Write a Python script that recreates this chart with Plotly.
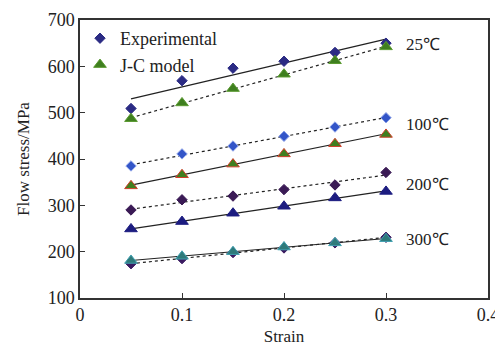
import numpy as np
import plotly.graph_objects as go

strain = [0.05, 0.10, 0.15, 0.20, 0.25, 0.30]
temps = ["25℃", "100℃", "200℃", "300℃"]
exp_25 = [509, 569, 596, 611, 630, 650]
jc_25 = [487, 521, 552, 583, 612, 642]
exp_100 = [385, 411, 428, 449, 469, 489]
jc_100 = [342, 366, 389, 411, 433, 453]
exp_200 = [290, 312, 320, 334, 344, 371]
jc_200 = [249, 265, 283, 298, 316, 330]
exp_300 = [174, 185, 198, 208, 219, 231]
jc_300 = [181, 190, 200, 210, 219, 228]
label_y = [648, 474, 344, 227]

exp_sets = [exp_25, exp_100, exp_200, exp_300]
jc_sets = [jc_25, jc_100, jc_200, jc_300]
exp_colors = ["#2b2b84", "#3355c8", "#3a1a55", "#3a1a60"]
exp_lines = ["#2b2b84", "#8aa0e8", "#3a1a55", "#3a1a60"]
jc_colors = ["#3f7f1f", "#3f7f1f", "#1c1c80", "#2e7a7a"]
jc_lines = ["#5a9a30", "#d0402a", "#1c1c80", "#40a0b0"]
exp_dash = ["solid", "dot", "dot", "dot"]
jc_dash = ["dot", "solid", "solid", "solid"]

FONT = "Liberation Serif"
fig = go.Figure()
xs = np.array(strain)
for i in range(4):
    for ys, dash in ((exp_sets[i], exp_dash[i]), (jc_sets[i], jc_dash[i])):
        k, b = np.polyfit(xs, np.array(ys), 1)
        fig.add_trace(go.Scatter(x=[strain[0], strain[-1]], y=[k * strain[0] + b, k * strain[-1] + b],
                                 mode="lines", line=dict(color="#222222", width=1.2, dash=dash),
                                 showlegend=False, hoverinfo="skip"))
for i in range(4):
    fig.add_trace(go.Scatter(x=strain, y=exp_sets[i], mode="markers", name="Experimental",
                             legendgroup="exp", showlegend=(i == 0),
                             marker=dict(symbol="diamond", size=8, color=exp_colors[i],
                                         line=dict(color=exp_lines[i], width=1))))
    fig.add_trace(go.Scatter(x=strain, y=jc_sets[i], mode="markers", name="J-C model",
                             legendgroup="jc", showlegend=(i == 0),
                             marker=dict(symbol="triangle-up", size=11, color=jc_colors[i],
                                         line=dict(color=jc_lines[i], width=1))))

for t, yv in zip(temps, label_y):
    fig.add_annotation(x=0.318, y=yv, text=t, showarrow=False, xanchor="left",
                       font=dict(family=FONT, size=17, color="#222222"))

axis_common = dict(showgrid=False, zeroline=False, showline=True, linecolor="#333333", linewidth=1.5,
                   mirror=True, ticks="inside", ticklen=5, tickcolor="#333333", automargin=False,
                   tickfont=dict(family=FONT, size=18, color="#222222"))
fig.update_xaxes(range=[0, 0.4], tickvals=[0, 0.1, 0.2, 0.3, 0.4], ticktext=["0", "0.1", "0.2", "0.3", "0.4"],
                 ticklabeloverflow="allow",
                 title=dict(text="Strain", font=dict(family=FONT, size=17, color="#222222"), standoff=6),
                 **axis_common)
fig.update_yaxes(range=[100, 700], tickvals=[100, 200, 300, 400, 500, 600, 700],
                 title=dict(text="Flow stress/MPa", font=dict(family=FONT, size=17, color="#222222"), standoff=14),
                 **axis_common)
fig.update_layout(width=495, height=349, margin=dict(l=72, r=15, t=12, b=59),
                  paper_bgcolor="white", plot_bgcolor="white",
                  legend=dict(x=0.0, y=1.0, xanchor="left", yanchor="top", bgcolor="rgba(255,255,255,0)",
                              font=dict(family=FONT, size=18, color="#222222"),
                              tracegroupgap=0, itemwidth=30))
fig.write_html("out.html")
